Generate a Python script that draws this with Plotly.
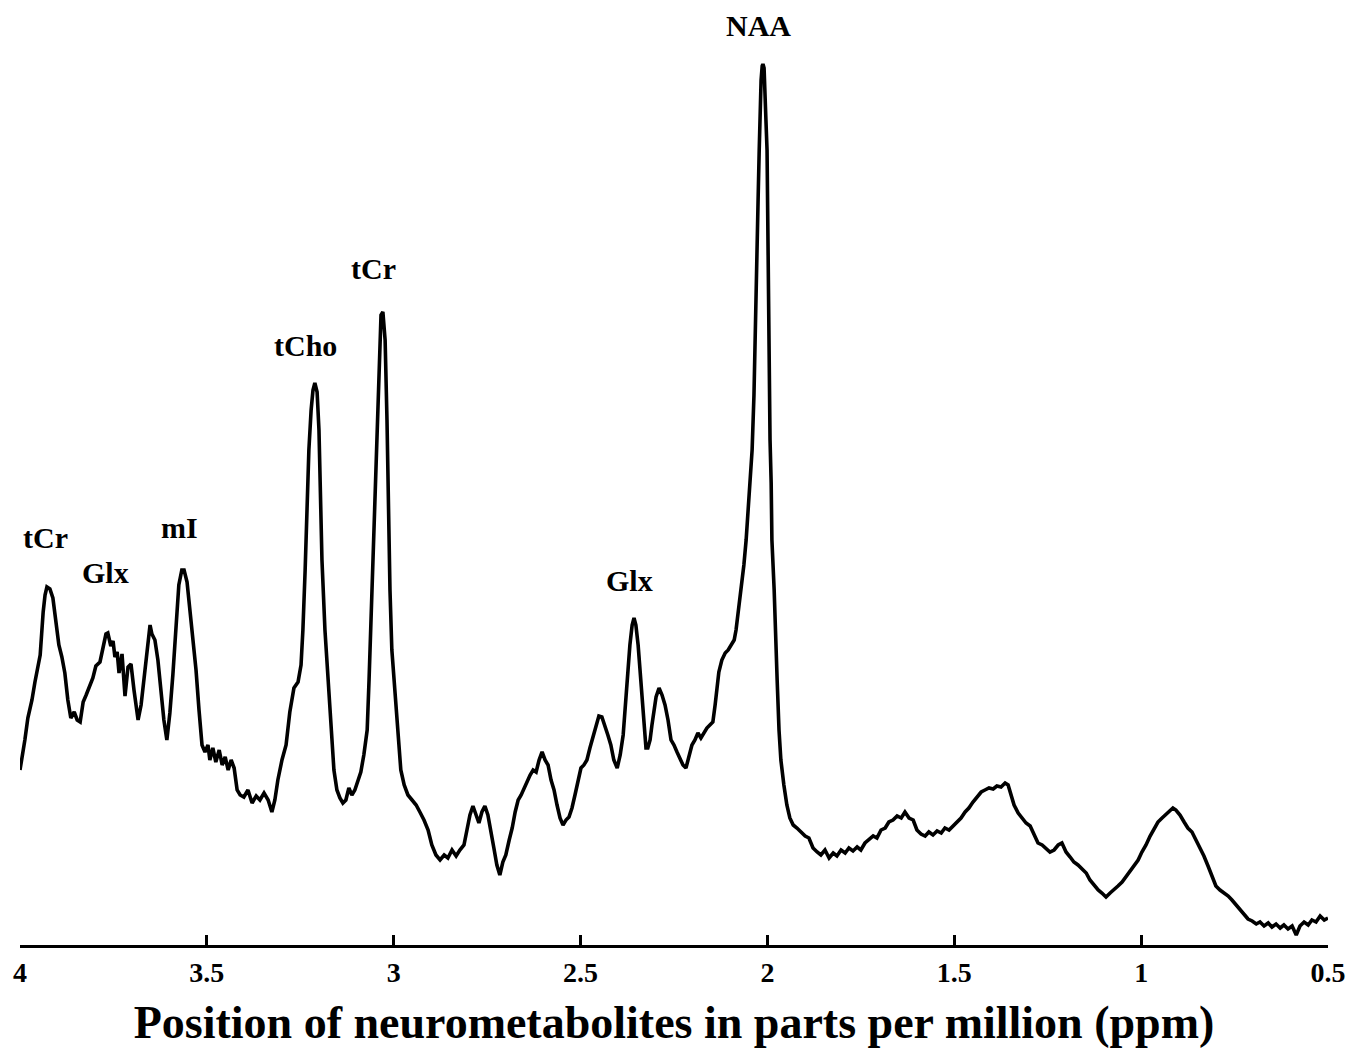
import plotly.graph_objects as go

# Chemical shift (ppm) and signal intensity (arbitrary units)
ppm = [
    4.000, 3.995, 3.987, 3.979, 3.968, 3.960, 3.952, 3.946, 3.938, 3.933,
    3.928, 3.920, 3.912, 3.904, 3.896, 3.888, 3.880, 3.872, 3.864, 3.855,
    3.847, 3.839, 3.831, 3.823, 3.813, 3.805, 3.797, 3.786, 3.778, 3.770,
    3.765, 3.757, 3.751, 3.746, 3.740, 3.735, 3.727, 3.719, 3.711, 3.703,
    3.695, 3.690, 3.684, 3.676, 3.668, 3.660, 3.652, 3.647, 3.639, 3.631,
    3.623, 3.615, 3.607, 3.599, 3.591, 3.583, 3.575, 3.567, 3.561, 3.553,
    3.545, 3.537, 3.529, 3.521, 3.513, 3.505, 3.497, 3.492, 3.484, 3.476,
    3.467, 3.459, 3.451, 3.443, 3.435, 3.427, 3.419, 3.411, 3.401, 3.390,
    3.379, 3.368, 3.358, 3.347, 3.336, 3.326, 3.318, 3.310, 3.299, 3.288,
    3.278, 3.267, 3.256, 3.248, 3.243, 3.237, 3.232, 3.227, 3.221, 3.216,
    3.211, 3.205, 3.200, 3.197, 3.192, 3.184, 3.176, 3.168, 3.160, 3.152,
    3.144, 3.136, 3.128, 3.120, 3.112, 3.104, 3.096, 3.088, 3.080, 3.071,
    3.066, 3.061, 3.055, 3.050, 3.045, 3.039, 3.034, 3.029, 3.023, 3.018,
    3.015, 3.010, 3.005, 2.997, 2.989, 2.981, 2.972, 2.962, 2.951, 2.940,
    2.930, 2.919, 2.908, 2.898, 2.887, 2.876, 2.865, 2.855, 2.844, 2.833,
    2.823, 2.812, 2.804, 2.796, 2.788, 2.780, 2.772, 2.764, 2.756, 2.748,
    2.740, 2.732, 2.724, 2.716, 2.708, 2.700, 2.691, 2.683, 2.675, 2.667,
    2.659, 2.651, 2.643, 2.635, 2.627, 2.619, 2.611, 2.603, 2.595, 2.587,
    2.579, 2.571, 2.563, 2.555, 2.547, 2.539, 2.531, 2.523, 2.515, 2.507,
    2.499, 2.491, 2.483, 2.475, 2.467, 2.459, 2.451, 2.443, 2.435, 2.427,
    2.419, 2.411, 2.402, 2.394, 2.386, 2.378, 2.373, 2.368, 2.362, 2.357,
    2.352, 2.346, 2.341, 2.336, 2.330, 2.325, 2.320, 2.314, 2.309, 2.303,
    2.298, 2.290, 2.282, 2.274, 2.266, 2.258, 2.250, 2.242, 2.234, 2.226,
    2.218, 2.210, 2.202, 2.194, 2.186, 2.178, 2.170, 2.162, 2.154, 2.146,
    2.140, 2.135, 2.130, 2.122, 2.113, 2.105, 2.097, 2.089, 2.084, 2.079,
    2.073, 2.068, 2.063, 2.057, 2.052, 2.047, 2.041, 2.036, 2.033, 2.031,
    2.028, 2.025, 2.022, 2.020, 2.017, 2.014, 2.012, 2.009, 2.006, 2.004,
    2.001, 2.000, 1.998, 1.997, 1.996, 1.993, 1.990, 1.988, 1.982, 1.980,
    1.974, 1.969, 1.964, 1.956, 1.948, 1.940, 1.931, 1.921, 1.910, 1.899,
    1.889, 1.878, 1.867, 1.857, 1.846, 1.835, 1.824, 1.814, 1.803, 1.792,
    1.782, 1.771, 1.760, 1.750, 1.739, 1.728, 1.717, 1.707, 1.696, 1.685,
    1.675, 1.664, 1.653, 1.642, 1.632, 1.621, 1.610, 1.600, 1.589, 1.578,
    1.568, 1.557, 1.546, 1.535, 1.525, 1.514, 1.503, 1.493, 1.482, 1.471,
    1.461, 1.450, 1.439, 1.428, 1.418, 1.407, 1.396, 1.386, 1.375, 1.364,
    1.356, 1.348, 1.340, 1.329, 1.319, 1.308, 1.297, 1.287, 1.276, 1.265,
    1.255, 1.244, 1.233, 1.222, 1.212, 1.201, 1.190, 1.180, 1.169, 1.158,
    1.147, 1.137, 1.126, 1.115, 1.105, 1.094, 1.083, 1.073, 1.062, 1.051,
    1.040, 1.030, 1.019, 1.008, 0.998, 0.987, 0.976, 0.966, 0.955, 0.944,
    0.933, 0.923, 0.915, 0.907, 0.896, 0.885, 0.875, 0.864, 0.853, 0.842,
    0.832, 0.821, 0.810, 0.800, 0.789, 0.778, 0.767, 0.757, 0.746, 0.735,
    0.724, 0.714, 0.703, 0.692, 0.682, 0.671, 0.660, 0.650, 0.639, 0.628,
    0.618, 0.607, 0.596, 0.585, 0.575, 0.564, 0.553, 0.543, 0.532, 0.521,
    0.510, 0.500,
]

intensity = [
    175, 185, 205, 227, 245, 263, 277, 290, 333, 350,
    358, 356, 347, 323, 300, 288, 272, 245, 227, 233,
    225, 223, 243, 250, 259, 267, 279, 283, 297, 311,
    312, 299, 304, 288, 293, 272, 291, 249, 278, 281,
    255, 240, 225, 240, 265, 290, 320, 311, 305, 285,
    255, 225, 205, 232, 270, 320, 360, 375, 375, 363,
    335, 305, 275, 235, 200, 193, 200, 185, 197, 183,
    195, 180, 188, 175, 185, 177, 155, 150, 148, 155,
    142, 149, 145, 152, 145, 133, 145, 165, 185, 200,
    233, 257, 263, 280, 315, 375, 445, 495, 535, 555,
    562, 553, 515, 465, 385, 315, 265, 220, 175, 155,
    147, 142, 145, 157, 150, 155, 163, 173, 190, 215,
    265, 325, 385, 445, 515, 595, 630, 633, 605, 525,
    445, 355, 295, 255, 205, 175, 160, 150, 145, 140,
    133, 125, 115, 100, 90, 85, 90, 87, 95, 89,
    95, 100, 115, 130, 139, 130, 122, 133, 139, 130,
    115, 97, 80, 70, 83, 90, 105, 117, 133, 145,
    150, 157, 163, 170, 175, 173, 185, 193, 185, 180,
    165, 155, 140, 127, 120, 125, 128, 137, 150, 163,
    177, 180, 185, 197, 208, 220, 229, 228, 220, 210,
    200, 185, 177, 190, 210, 245, 275, 300, 320, 327,
    320, 300, 275, 245, 215, 197, 197, 205, 220, 235,
    248, 257, 250, 240, 225, 205, 200, 193, 187, 180,
    177, 190, 200, 205, 212, 207, 213, 217, 220, 223,
    240, 260, 273, 285, 292, 295, 300, 305, 315, 330,
    350, 370, 380, 405, 430, 465, 495, 550, 595, 645,
    695, 745, 795, 835, 865, 879, 881, 877, 855, 825,
    795, 745, 695, 625, 562, 505, 462, 405, 355, 325,
    265, 215, 185, 160, 140, 127, 120, 117, 113, 109,
    107, 97, 93, 90, 95, 87, 92, 89, 95, 92,
    97, 94, 98, 95, 102, 105, 109, 107, 115, 117,
    123, 125, 129, 127, 133, 127, 125, 115, 111, 109,
    113, 110, 114, 112, 117, 115, 119, 123, 127, 133,
    137, 143, 148, 153, 155, 157, 156, 159, 158, 162,
    160, 150, 140, 132, 127, 122, 119, 110, 102, 100,
    97, 93, 95, 100, 102, 93, 88, 83, 80, 76,
    72, 65, 60, 55, 52, 48, 52, 55, 59, 63,
    69, 73, 79, 85, 93, 100, 109, 115, 123, 127,
    131, 134, 137, 135, 130, 123, 117, 113, 105, 97,
    89, 79, 69, 59, 55, 52, 49, 45, 40, 35,
    30, 26, 24, 21, 23, 19, 22, 18, 21, 17,
    20, 16, 19, 10, 19, 23, 20, 25, 23, 29,
    25, 27,
]

# Metabolite peak labels
label_text = ["tCr", "Glx", "mI", "tCho", "tCr", "Glx", "NAA"]
label_ppm = [3.933, 3.770, 3.572, 3.237, 3.053, 2.370, 2.025]
label_int = [408, 373, 418, 600, 677, 365, 920]

tick_vals = [4, 3.5, 3, 2.5, 2, 1.5, 1, 0.5]
tick_text = ["4", "3.5", "3", "2.5", "2", "1.5", "1", "0.5"]

x_title = "Position of neurometabolites in parts per million (ppm)"

FONT = "Liberation Serif"

fig = go.Figure()
fig.add_trace(go.Scatter(
    x=ppm, y=intensity, mode="lines",
    line=dict(color="black", width=3.6),
    showlegend=False, hoverinfo="skip",
))

for t, xv, yv in zip(label_text, label_ppm, label_int):
    fig.add_annotation(
        x=xv, y=yv, text=t, showarrow=False, xref="x", yref="y",
        font=dict(family=FONT, size=30, color="black", weight="bold"),
    )

fig.update_layout(
    width=1369, height=1051,
    margin=dict(l=20, r=41, t=10, b=106),
    paper_bgcolor="white", plot_bgcolor="white",
    xaxis=dict(
        range=[4, 0.5],
        tickvals=tick_vals, ticktext=tick_text,
        ticks="inside", ticklen=10, tickwidth=2.5, tickcolor="black",
        showline=True, linewidth=3, linecolor="black",
        showgrid=False, zeroline=False,
        tickfont=dict(family=FONT, size=28, color="black", weight="bold"),
        title=dict(text=x_title, standoff=20,
                   font=dict(family=FONT, size=46, color="black", weight="bold")),
    ),
    yaxis=dict(range=[0, 935], visible=False, showgrid=False, zeroline=False),
)

fig.write_html(
    "out.html",
    config={"displayModeBar": False},
    post_script="document.body.style.margin='0';document.body.style.overflow='hidden';",
)
